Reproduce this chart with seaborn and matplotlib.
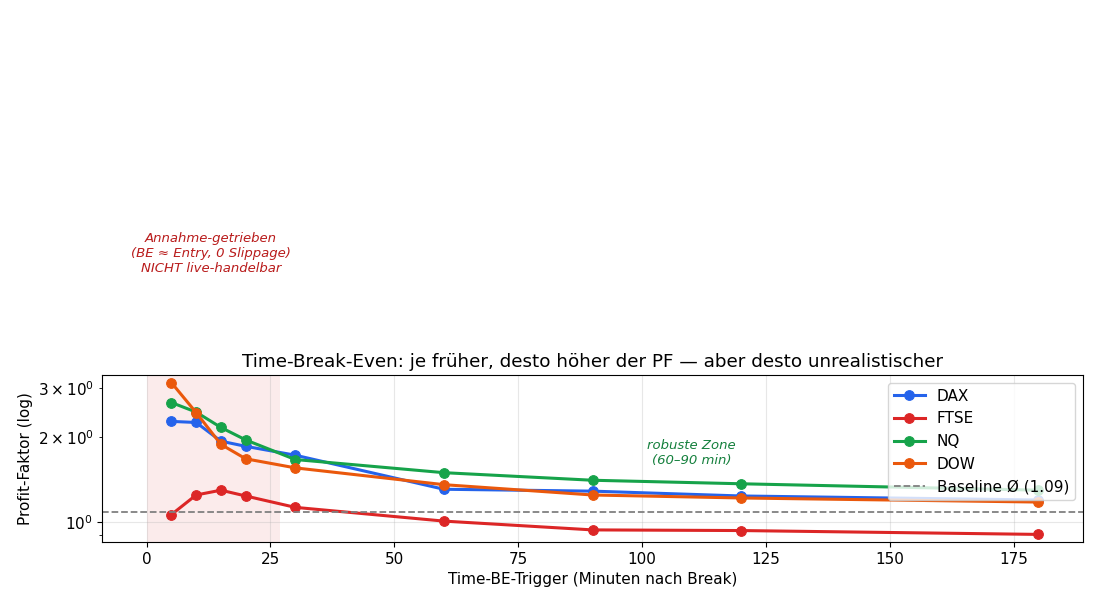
import numpy as np
import pandas as pd
import seaborn as sns
import matplotlib
matplotlib.use("Agg")
import matplotlib.pyplot as plt

# Time-BE trigger in minutes after the break
minutes = [5, 10, 15, 20, 30, 60, 90, 120, 180]

# profit factor per market
pf_dax = [2.28, 2.26, 1.94, 1.86, 1.73, 1.31, 1.29, 1.24, 1.20]
pf_ftse = [1.065, 1.25, 1.30, 1.24, 1.13, 1.01, 0.94, 0.935, 0.906]
pf_nq = [2.66, 2.46, 2.17, 1.96, 1.67, 1.50, 1.41, 1.37, 1.30]
pf_dow = [3.13, 2.45, 1.89, 1.68, 1.56, 1.36, 1.25, 1.22, 1.18]

markets = ["DAX", "FTSE", "NQ", "DOW"]
colors = ["#2563eb", "#dc2626", "#16a34a", "#ea580c"]
baseline = 1.09

df = pd.DataFrame({
    "minutes": minutes * 4,
    "pf": pf_dax + pf_ftse + pf_nq + pf_dow,
    "market": [m for m in markets for _ in minutes],
})

fig = plt.figure(figsize=(11, 6.05), dpi=100)
ax = fig.add_axes([102 / 1100, 63 / 605, 981 / 1100, 167 / 605])

ax.axvspan(0, 27, color="#dc2626", alpha=0.09, lw=0)

for m, c in zip(markets, colors):
    sub = df[df["market"] == m]
    sns.lineplot(data=sub, x="minutes", y="pf", ax=ax, color=c, marker="o",
                 markersize=7, linewidth=2.2, markeredgecolor=c, label=m)

ax.axhline(baseline, color="gray", ls="--", lw=1.3, label="Baseline Ø (1.09)")
ax.set_yscale("log")
ax.grid(True, alpha=0.3)

ax.text(13, 9.0, "Annahme-getrieben\n(BE ≈ Entry, 0 Slippage)\nNICHT live-handelbar",
        ha="center", va="center", fontsize=9.5, style="italic", color="#b91c1c")
ax.text(110, 1.76, "robuste Zone\n(60–90 min)", ha="center", va="center",
        fontsize=9.5, style="italic", color="#15803d")

ax.set_title("Time-Break-Even: je früher, desto höher der PF — aber desto unrealistischer",
             fontsize=13.2)
ax.set_xlabel("Time-BE-Trigger (Minuten nach Break)", fontsize=11)
ax.set_ylabel("Profit-Faktor (log)", fontsize=11)
ax.tick_params(which="both", labelsize=11)
ax.legend(loc="upper right", fontsize=11)

fig.savefig("out.png", dpi=100)
